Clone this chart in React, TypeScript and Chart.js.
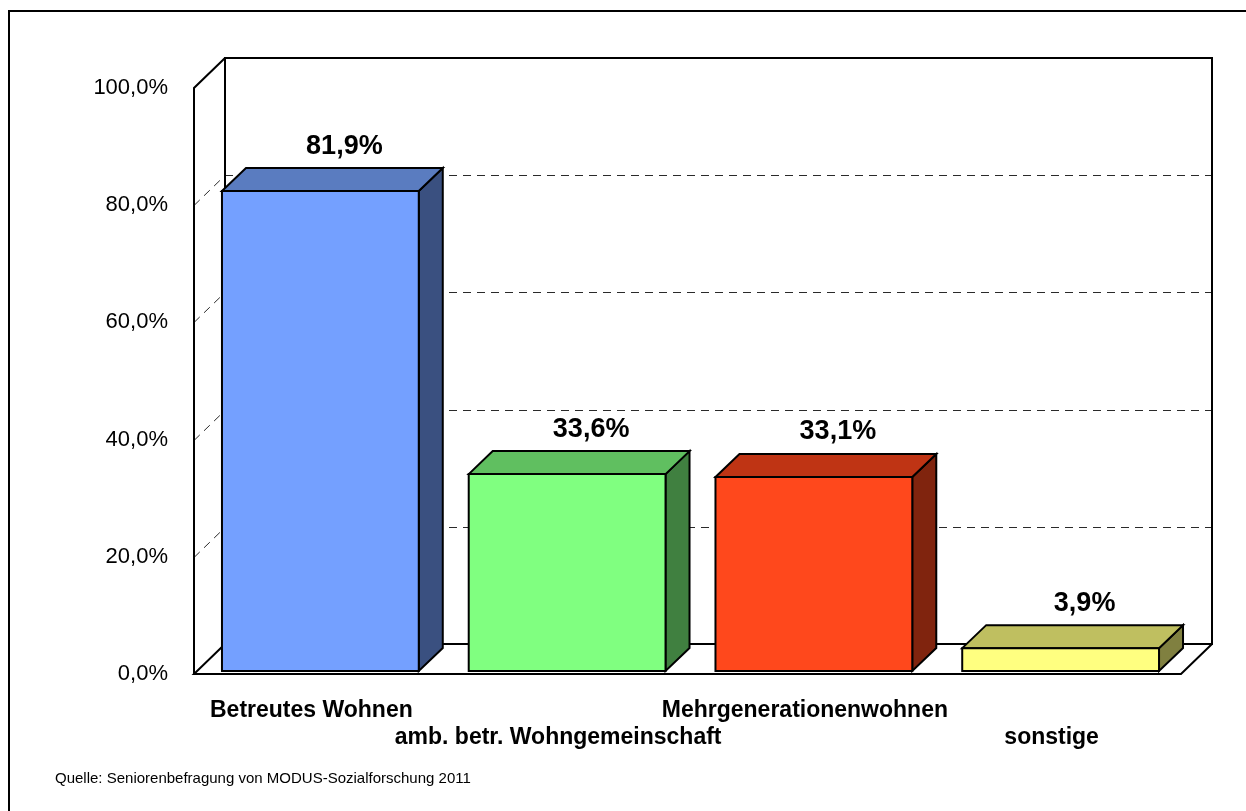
import React, { useEffect, useRef } from "react";
import { Chart, registerables } from "chart.js";

Chart.register(...registerables);

const categories = [
  "Betreutes Wohnen",
  "amb. betr. Wohngemeinschaft",
  "Mehrgenerationenwohnen",
  "sonstige",
];
const labelRow = [0, 1, 0, 1];
const values = [81.9, 33.6, 33.1, 3.9];
const yTickValues = [0, 20, 40, 60, 80, 100];
const frontColors = ["#74A0FF", "#80FF80", "#FF481C", "#FFFF80"];
const topColors = ["#5A7CC0", "#60BF60", "#BF3414", "#BFBF60"];
const sideColors = ["#3A5080", "#408040", "#80240E", "#808040"];
const sourceNote = "Quelle: Seniorenbefragung von MODUS-Sozialforschung 2011";

const FONT = "'Liberation Sans', Arial, Helvetica, sans-serif";
const fmt = (v: number) => v.toFixed(1).replace(".", ",") + "%";

const WALL_DX = 31;
const WALL_DY = -30;
const BAR_OFF = 3;
const BAR_DX = 24;
const BAR_DY = -23;

const box3d = {
  id: "box3d",
  beforeDraw(chart: any) {
    const ctx = chart.ctx;
    ctx.save();
    ctx.fillStyle = "#ffffff";
    ctx.fillRect(0, 0, chart.width, chart.height);
    ctx.strokeStyle = "#000000";
    ctx.lineWidth = 2;
    ctx.strokeRect(9, 11, chart.width + 40, chart.height + 40);
    ctx.restore();
  },
  beforeDatasetsDraw(chart: any) {
    const { ctx, chartArea: ca, scales } = chart;
    const y = scales.y;
    const L = ca.left;
    const R = ca.right;
    const T = y.getPixelForValue(100);
    const B = y.getPixelForValue(0);
    const dx = WALL_DX;
    const dy = WALL_DY;
    ctx.save();
    ctx.strokeStyle = "#2a2a2a";
    ctx.lineWidth = 1;
    ctx.setLineDash([8, 6]);
    for (const v of yTickValues) {
      if (v === 0 || v === 100) continue;
      const yf = Math.round(y.getPixelForValue(v) + dy) + 0.5 - dy;
      ctx.beginPath();
      ctx.moveTo(L + dx, yf + dy);
      ctx.lineTo(R + dx, yf + dy);
      ctx.stroke();
      ctx.beginPath();
      ctx.moveTo(L, yf);
      ctx.lineTo(L + dx, yf + dy);
      ctx.stroke();
    }
    ctx.setLineDash([]);
    ctx.strokeStyle = "#000000";
    ctx.lineWidth = 2;
    ctx.strokeRect(L + dx, T + dy, R - L, B - T);
    ctx.beginPath();
    ctx.moveTo(L, B);
    ctx.lineTo(L, T);
    ctx.lineTo(L + dx, T + dy);
    ctx.stroke();
    ctx.beginPath();
    ctx.moveTo(L + dx, B + dy);
    ctx.lineTo(L, B);
    ctx.lineTo(R, B);
    ctx.lineTo(R + dx, B + dy);
    ctx.stroke();
    ctx.restore();
  },
  beforeDatasetDraw() {
    return false;
  },
  afterDatasetsDraw(chart: any) {
    const ctx = chart.ctx;
    const meta = chart.getDatasetMeta(0);
    ctx.save();
    ctx.lineJoin = "miter";
    meta.data.forEach((el: any, i: number) => {
      const p = el.getProps(["x", "y", "base", "width"], true);
      const left = p.x - p.width / 2 + BAR_OFF;
      const right = p.x + p.width / 2 + BAR_OFF;
      const top = p.y - BAR_OFF;
      const bottom = p.base - BAR_OFF;
      ctx.lineWidth = 2;
      ctx.strokeStyle = "#000000";
      // side
      ctx.beginPath();
      ctx.moveTo(right, top);
      ctx.lineTo(right + BAR_DX, top + BAR_DY);
      ctx.lineTo(right + BAR_DX, bottom + BAR_DY);
      ctx.lineTo(right, bottom);
      ctx.closePath();
      ctx.fillStyle = sideColors[i];
      ctx.fill();
      ctx.stroke();
      // top
      ctx.beginPath();
      ctx.moveTo(left, top);
      ctx.lineTo(left + BAR_DX, top + BAR_DY);
      ctx.lineTo(right + BAR_DX, top + BAR_DY);
      ctx.lineTo(right, top);
      ctx.closePath();
      ctx.fillStyle = topColors[i];
      ctx.fill();
      ctx.stroke();
      // front
      ctx.beginPath();
      ctx.rect(left, top, right - left, bottom - top);
      ctx.fillStyle = frontColors[i];
      ctx.fill();
      ctx.stroke();
      // value label
      ctx.fillStyle = "#000000";
      ctx.font = `bold 27px ${FONT}`;
      ctx.textAlign = "center";
      ctx.textBaseline = "middle";
      ctx.fillText(fmt(values[i]), p.x + BAR_OFF + BAR_DX, top + BAR_DY - 22);
    });
    ctx.restore();
  },
  afterDraw(chart: any) {
    const ctx = chart.ctx;
    ctx.save();
    ctx.fillStyle = "#000000";
    ctx.font = `15px ${FONT}`;
    ctx.textAlign = "left";
    ctx.textBaseline = "middle";
    ctx.fillText(sourceNote, 55, 779);
    ctx.restore();
  },
};

export default function App() {
  const ref = useRef<HTMLCanvasElement>(null);
  useEffect(() => {
    if (!ref.current) return;
    const labels = categories.map((c, i) => (labelRow[i] === 0 ? [c, ""] : ["", c]));
    const chart = new Chart(ref.current, {
      type: "bar",
      data: {
        labels,
        datasets: [
          {
            data: values,
            backgroundColor: frontColors,
            categoryPercentage: 1,
            barPercentage: 197 / 247,
          },
        ],
      },
      options: {
        animation: false,
        responsive: false,
        devicePixelRatio: 1,
        layout: { padding: { top: 88, right: 65, left: 0, bottom: 0 } },
        plugins: {
          legend: { display: false },
          tooltip: { enabled: false },
          title: { display: false },
        },
        scales: {
          x: {
            type: "category",
            offset: true,
            grid: { display: false },
            border: { display: false },
            ticks: {
              color: "#000000",
              font: { family: FONT, size: 23, weight: "bold", lineHeight: 1.17 },
              padding: 15,
              labelOffset: -6,
              maxRotation: 0,
              minRotation: 0,
              autoSkip: false,
            },
            afterFit: (s: any) => {
              s.height = 137;
            },
          },
          y: {
            min: 0,
            max: 100,
            grid: { display: false },
            border: { display: false },
            ticks: {
              stepSize: 20,
              color: "#000000",
              font: { family: FONT, size: 22 },
              padding: 18,
              callback: (v: any) => fmt(Number(v)),
            },
            afterFit: (s: any) => {
              s.width = 194;
            },
          },
        },
      } as any,
      plugins: [box3d],
    });
    return () => chart.destroy();
  }, []);
  return (
    <canvas
      ref={ref}
      width={1246}
      height={811}
      style={{ position: "fixed", left: 0, top: 0, width: 1246, height: 811 }}
    />
  );
}
